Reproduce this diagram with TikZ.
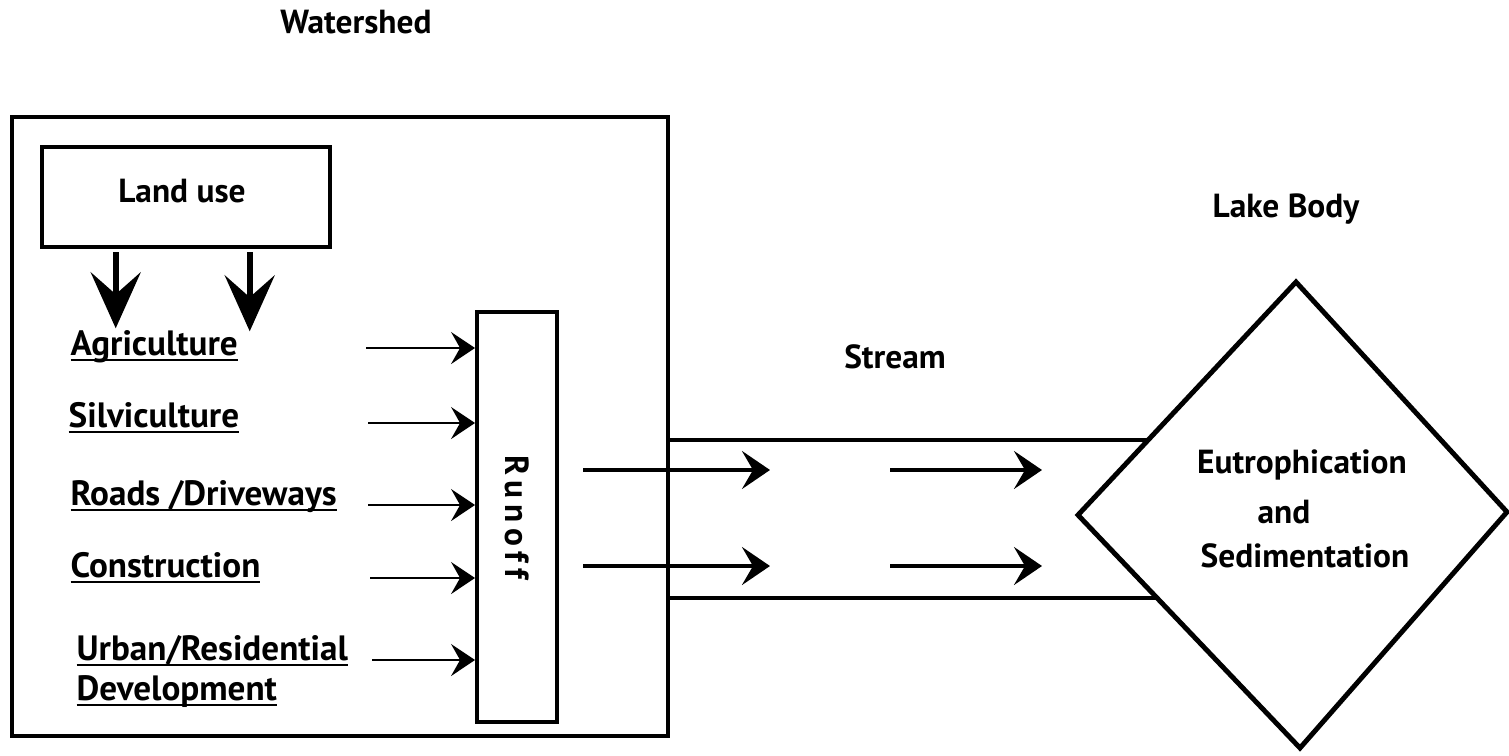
\documentclass[tikz,border=0pt]{standalone}
\usepackage{fontspec}
\setmainfont{PT Sans}
\usetikzlibrary{arrows.meta,positioning}
\newcommand\useline[1]{\underline{\smash{#1}}}

\begin{document}
\begin{tikzpicture}[>=Stealth, scale=1,
  every node/.style={font=\bfseries\fontsize{9.5}{11}\selectfont},
  box/.style={draw, line width=1.1pt},
  title/.style={anchor=base},
  item/.style={anchor=base west, inner sep=0pt, font=\bfseries\fontsize{10}{12}\selectfont},
  feed/.style={->, line width=0.6pt, >={Stealth[length=2.4mm,width=3.2mm,inset=0.9mm]}},
  drop/.style={->, line width=1.7pt, >={Stealth[length=5.6mm,width=5mm,inset=2.2mm]}},
  flow/.style={->, line width=1.1pt, >={Stealth[length=2.8mm,width=3.8mm,inset=1.1mm]}}]
  \useasboundingbox (0,0) rectangle (15.09,-7.56);

  % Watershed side
  \node[title] (watershed) at (3.56,-0.33) {Watershed};
  \node[box, minimum width=6.56cm, minimum height=6.19cm] (shed) at (3.40,-4.265) {};
  \node[box, line width=1.3pt, minimum width=2.88cm, minimum height=1.0cm] (landuse) at (1.86,-1.97) {};
  \node[title] (landtext) at (1.82,-2.02) {Land use};

  % Land use splits into the uses
  \draw[drop] (landuse.south west) ++(0.76,-0.03) -- ++(0,-0.76);
  \draw[drop] (landuse.south west) ++(2.10,-0.03) -- ++(0,-0.79);

  \node[item] (agri)   at (0.70,-3.55) {\useline{Agriculture}};
  \node[item] (silvi)  at (0.68,-4.27) {\useline{Silviculture}};
  \node[item] (roads)  at (0.70,-5.05) {\useline{Roads /Driveways}};
  \node[item] (constr) at (0.70,-5.77) {\useline{Construction}};
  \node[item] (urban)  at (0.76,-6.60) {\useline{Urban/Residential}};
  \node[item] (devel)  at (0.76,-7.00) {\useline{Development}};

  % Runoff collector
  \node[box, minimum width=0.8cm, minimum height=4.1cm] (runoff) at (5.17,-5.17) {};
  \node[rotate=-90] (runofftext) at (runoff) {R\,u\,n\,o\,f\,f};

  \coordinate (a1) at (3.66,-3.48);
  \coordinate (a2) at (3.68,-4.23);
  \coordinate (a3) at (3.68,-5.05);
  \coordinate (a4) at (3.70,-5.78);
  \coordinate (a5) at (3.72,-6.60);
  \foreach \c in {a1,a2,a3,a4,a5}
    \draw[feed] (\c) -- (\c -| runoff.west);

  % Stream to the lake
  \node[title] (stream) at (8.95,-3.68) {Stream};
  \coordinate (d1) at (12.96,-2.82);
  \coordinate (d2) at (15.07,-5.12);
  \coordinate (d3) at (13.00,-7.48);
  \coordinate (d4) at (10.78,-5.15);
  \draw[line width=1.4pt] (d1) -- (d2) -- (d3) -- (d4) -- cycle;
  \coordinate (s1) at (11.48,-4.40);
  \coordinate (s2) at (11.57,-5.98);
  \draw[line width=1.1pt] (shed.east |- s1) -- (s1);
  \draw[line width=1.1pt] (shed.east |- s2) -- (s2);

  \coordinate (f1) at (5.83,-4.70);
  \coordinate (f2) at (5.83,-5.66);
  \draw[flow] (f1) -- ++(1.87,0);
  \draw[flow] (f1) ++(3.07,0) -- ++(1.52,0);
  \draw[flow] (f2) -- ++(1.87,0);
  \draw[flow] (f2) ++(3.07,0) -- ++(1.52,0);

  \node[title] (lake) at (12.86,-2.17) {Lake Body};
  \node[title] (eutro) at (13.02,-4.73) {Eutrophication};
  \node[title] (and)   at (12.84,-5.23) {and};
  \node[title] (sedim) at (13.05,-5.67) {Sedimentation};
\end{tikzpicture}
\end{document}
